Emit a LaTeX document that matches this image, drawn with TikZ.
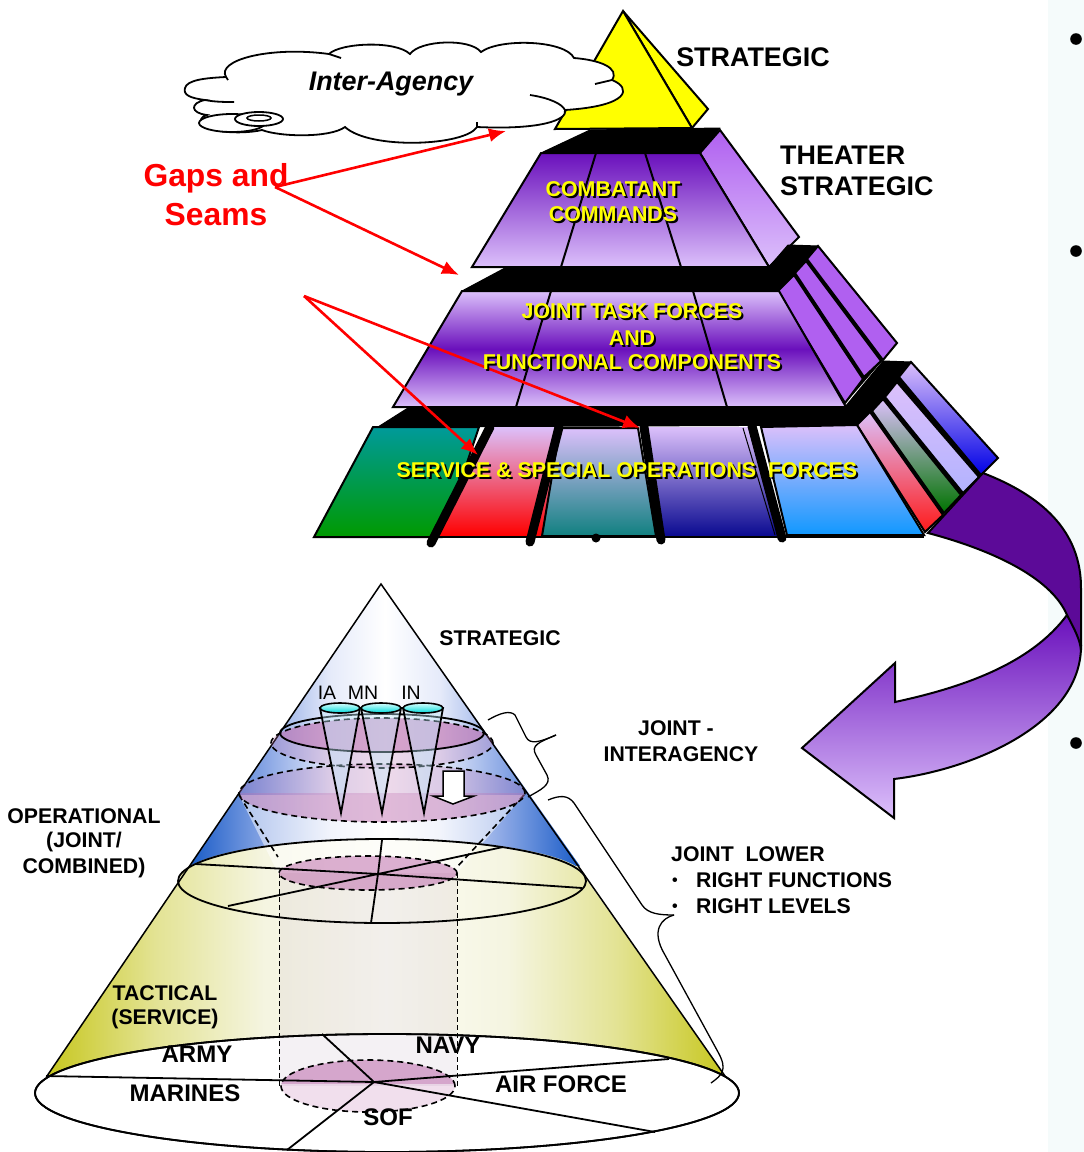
\documentclass[tikz,border=0pt]{standalone}
\usepackage{fontspec}
\setmainfont{Liberation Sans}
\usetikzlibrary{arrows.meta}
\definecolor{lav}{HTML}{DCC0FB}
\definecolor{deepv}{HTML}{6A10BC}
\definecolor{midv}{HTML}{B060F0}
\definecolor{darkv}{HTML}{5C0A98}
\definecolor{pinkf}{HTML}{C070B0}
\definecolor{panelc}{HTML}{F5FBFB}
\definecolor{yel}{RGB}{255,255,0}
\definecolor{tealtop}{HTML}{009A9A}
\definecolor{greenbot}{HTML}{009A00}
\definecolor{tealbot}{HTML}{108080}
\definecolor{navybot}{HTML}{0A0A90}
\definecolor{skybot}{HTML}{1098FF}
\pgfdeclarehorizontalshading{yshade}{100bp}{rgb(0bp)=(.78,.78,.12); rgb(25bp)=(.78,.78,.12); rgb(33bp)=(.89,.89,.58); rgb(41bp)=(.96,.96,.88); rgb(50bp)=(.99,.99,.96); rgb(59bp)=(.96,.96,.88); rgb(67bp)=(.89,.89,.58); rgb(75bp)=(.78,.78,.12); rgb(100bp)=(.78,.78,.12)}
\pgfdeclarehorizontalshading{bshade}{100bp}{rgb(0bp)=(.10,.36,.78); rgb(25bp)=(.10,.36,.78); rgb(35bp)=(.55,.66,.90); rgb(43bp)=(.90,.92,.98); rgb(50bp)=(1,1,1); rgb(57bp)=(.90,.92,.98); rgb(65bp)=(.55,.66,.90); rgb(75bp)=(.10,.36,.78); rgb(100bp)=(.10,.36,.78)}
\newcommand\fsz[1]{\fontsize{#1}{#1}\selectfont}
\newcommand\shtxt[1]{\leavevmode\rlap{\raisebox{-2pt}{\hspace{2pt}\textcolor{black}{#1}}}\textcolor{yel}{#1}}
\tikzset{
  edge/.style={draw=black,line width=2pt,line join=miter},
  thin edge/.style={draw=black,line width=1.5pt},
  lbl/.style={inner sep=0pt,font=\bfseries\fsz{21.25}},
  shl/.style={inner sep=0pt,font=\bfseries\fsz{21.4}},
  big/.style={inner sep=0pt,font=\bfseries\fsz{26.9}},
  unit/.style={inner sep=0pt,font=\bfseries\fsz{24}},
  plain/.style={inner sep=0pt,font=\fsz{19.5}},
  redarrow/.style={draw=red,line width=2.6pt,-{Latex[length=17pt,width=14pt]}},
  thick bar/.style={draw=black,line width=9pt,line cap=round},
  band/.style={fill=black,draw=black,line width=1pt,line join=round},
  dash edge/.style={draw=black,line width=1.6pt,dash pattern=on 6pt off 4pt},
  cyl edge/.style={draw=black,line width=1pt,dash pattern=on 5pt off 3pt},
}
\begin{document}
\begin{tikzpicture}[x=1pt,y=-1pt]
\useasboundingbox (0,0) rectangle (1084,1152);
% side panel
\fill[panelc] (1048,0) rectangle (1084,1152);
\foreach \y in {39,251,743}{\fill[black] (1076,\y) circle[radius=5.8pt];}
% top pyramid
\path[edge,fill=yel] (623,11) -- (708,109) -- (692,128) -- cycle;
\path[edge,fill=yel] (623,11) -- (555,129) -- (692,128) -- cycle;
% cloud
\path[draw=black,line width=1.8pt,fill=white]
 (185,88) .. controls (187,80) and (205,78) .. (226,77)
 .. controls (216,60) and (270,46) .. (329,54)
 .. controls (340,43) and (395,40) .. (410,54)
 .. controls (420,40) and (470,38) .. (481,52)
 .. controls (500,38) and (565,40) .. (574,58)
 .. controls (600,60) and (620,68) .. (612,80)
 .. controls (632,88) and (630,106) .. (565,110)
 .. controls (568,120) and (540,130) .. (477,127)
 .. controls (465,146) and (370,150) .. (345,127)
 .. controls (330,138) and (280,137) .. (262,130)
 .. controls (240,135) and (203,132) .. (201,122)
 .. controls (200,117) and (205,116) .. (207,115)
 .. controls (190,113) and (190,103) .. (205,100)
 .. controls (190,98) and (183,95) .. (185,88) -- cycle;
\draw[line width=1.8pt] (205,100) .. controls (215,102) and (225,102) .. (234,102);
\draw[line width=1.8pt] (226,77) -- (228,80);
\draw[line width=1.8pt] (329,54) -- (341,58);
\draw[line width=1.8pt] (612,80) -- (595,84);
\draw[line width=1.8pt] (530,95) .. controls (550,98) and (562,104) .. (565,110);
\draw[line width=1.8pt] (477,127) -- (477,122);
\draw[line width=1.8pt,fill=white] (232,123) ellipse[x radius=33pt,y radius=9pt];
\draw[line width=1.8pt,fill=white] (259,119) ellipse[x radius=24pt,y radius=7pt];
\draw[line width=1.5pt,fill=white] (259,118) ellipse[x radius=12pt,y radius=3pt];
% tier 2
\path[band] (541,153) -- (590,130) -- (720,128) -- (700,153) -- cycle;
\path[edge,top color=midv,bottom color=lav] (700,153) -- (720,130) -- (799,237) -- (769,267) -- cycle;
\path[edge,top color=deepv,bottom color=lav] (541,153) -- (700,153) -- (769,267) -- (472,267) -- cycle;
\draw[edge] (596,153) -- (561,267) (645,153) -- (681,267);
% tier 3
\path[band] (462,291) -- (505,268) -- (769,267) -- (788,245) -- (818,246) -- (778,291) -- cycle;
\path[band] (778,291) -- (845,403) -- (897,343) -- (818,246) -- cycle;
\path[edge,fill=midv] (778,291) -- (845,403) -- (863,379) -- (794,275) -- cycle;
\path[edge,fill=midv] (795,273) -- (864,377) -- (881,361) -- (806,261) -- cycle;
\path[edge,fill=midv] (807,259) -- (818,246) -- (897,343) -- (883,360) -- cycle;
\path[edge,top color=lav,bottom color=lav,middle color=deepv] (462,291) -- (779,291) -- (846,407) -- (393,407) -- cycle;
\draw[edge] (551,291) -- (516,407) (693,291) -- (727,407);
% tier 4
\path[band] (378,427) -- (408,408) -- (845,407) -- (883,361) -- (911,362) -- (857,425) -- cycle;
\path[band] (857,425) -- (925,532) -- (981,475) -- (911,362) -- cycle;
\path[edge,top color=lav,bottom color=red!90!white] (857,425) -- (925,532) -- (943,515) -- (870,412) -- cycle;
\path[edge,top color=lav,bottom color=green!45!black] (872,411) -- (944,513) -- (961,495) -- (883,399) -- cycle;
\path[edge,top color=lav,bottom color=blue!30!white] (885,397) -- (963,493) -- (979,477) -- (897,382) -- cycle;
\path[edge,top color=lav,bottom color=blue!90!black] (899,377) -- (911,362) -- (998,458) -- (981,475) -- cycle;
\path[edge,top color=tealtop,bottom color=greenbot] (373,427) -- (479,427) -- (442,537) -- (314,537) -- cycle;
\path[top color=lav,bottom color=red] (486,427) -- (562,427) -- (546,536) -- (436,536) -- cycle;
\path[edge,top color=lav,bottom color=tealbot] (560,428) -- (638,428) -- (656,536) -- (542,536) -- cycle;
\path[top color=lav,bottom color=navybot] (648,427) -- (756,427) -- (784,536) -- (660,536) -- cycle;
\draw[line width=1pt] (743,428) -- (775,535);
\path[edge,top color=lav,bottom color=skybot] (761,427) -- (857,425) -- (924,535) -- (787,535) -- cycle;
\draw[edge] (314,537) -- (924,537);
\draw[thick bar] (490,427) -- (431,543);
\draw[thick bar] (559,427) -- (530,542);
\draw[thick bar] (644,427) -- (661,540);
\draw[thick bar] (752,426) -- (782,538);
\fill[black] (596,538) circle[radius=4.5pt];
% curved arrow
\path[edge,top color=deepv,bottom color=lav] (1067,615) .. controls (1030,665) and (960,688) .. (895,702) -- (895,663) -- (802,748) -- (894,818) -- (894,779) .. controls (970,770) and (1082,725) .. (1081,645) .. controls (1080,635) and (1075,628) .. (1067,615) -- cycle;
\path[edge,fill=darkv] (928,533) .. controls (985,548) and (1050,575) .. (1067,615) .. controls (1075,630) and (1080,640) .. (1081,650) -- (1081,590) .. controls (1082,530) and (1040,495) .. (983,473) -- cycle;
% cone
\path[shading=bshade] (381,584) -- (190,866) -- (580,866) -- cycle;
\path[shading=yshade] (47,1076) -- (180,879) .. controls (180,856) and (270,839) .. (382,839) .. controls (494,839) and (586,856) .. (586,879) -- (725,1076) -- cycle;
\draw[thin edge] (47,1076) -- (381,584) -- (725,1076);
\path[draw=black,line width=1.8pt,fill=white] (387,1093) ellipse[x radius=352pt,y radius=59pt];
% funnel and cylinder
\path[fill=white,fill opacity=.5] (239,795) -- (278,873) -- (457,873) -- (524,795) -- cycle;
\path[fill=pinkf!40!gray!50!white,fill opacity=.2] (279,873) rectangle (457,1086);
\draw[cyl edge] (279,873) -- (279,1086) (457,873) -- (457,1086);
\draw[dash edge] (239,795) -- (278,857) (524,795) -- (457,867);
% upper ellipses
\path[fill=pinkf,fill opacity=.25] (382,743) ellipse[x radius=111pt,y radius=25pt];
\begin{scope}
\clip (382,743) ellipse[x radius=111pt,y radius=25pt];
\path[fill=pinkf,fill opacity=.5] (382,733) ellipse[x radius=102pt,y radius=19pt];
\end{scope}
\path[fill=pinkf,fill opacity=.25] (382,793) ellipse[x radius=143pt,y radius=29pt];
\begin{scope}
\clip (230,793) rectangle (530,830);
\path[fill=pinkf,fill opacity=.3] (382,793) ellipse[x radius=143pt,y radius=29pt];
\end{scope}
\draw[dash edge] (382,743) ellipse[x radius=111pt,y radius=25pt];
\draw[dash edge] (382,793) ellipse[x radius=143pt,y radius=29pt];
\draw[line width=1.8pt] (382,733) ellipse[x radius=102pt,y radius=19pt];
% mid ellipse
\path[fill=pinkf,fill opacity=.55] (368,873) ellipse[x radius=89pt,y radius=17pt];
\draw[dash edge] (368,873) ellipse[x radius=89pt,y radius=17pt];
\draw[line width=1.8pt] (382,881) ellipse[x radius=204pt,y radius=42pt];
\draw[line width=1.8pt] (378,874) -- (195,864) (378,874) -- (582,888) (378,874) -- (503,847) (378,874) -- (228,906) (378,874) -- (382,840) (378,874) -- (371,923);
% bottom ellipse contents
\begin{scope}
\clip (270,1050) rectangle (470,1083);
\path[fill=pinkf,fill opacity=.45] (368,1086) ellipse[x radius=87pt,y radius=26pt];
\end{scope}
\path[fill=pinkf,fill opacity=.22] (368,1086) ellipse[x radius=87pt,y radius=26pt];
\draw[dash edge] (368,1086) ellipse[x radius=87pt,y radius=26pt];
\draw[line width=1.8pt] (387,1093) ellipse[x radius=352pt,y radius=59pt];
\draw[line width=1.8pt] (374,1082) -- (46,1076) (374,1082) -- (322,1034) (374,1082) -- (669,1059) (374,1082) -- (655,1132) (374,1082) -- (287,1150);
% small cones
\foreach \x in {340,381,423}{
  \path[fill=cyan!25!white,fill opacity=.4,draw=black,line width=1.8pt] (\x-20,708) -- (\x+1,813) -- (\x+20,708) -- cycle;
  \path[top color=cyan!15!white,bottom color=cyan!70!teal,draw=black,line width=1.6pt] (\x,708) ellipse[x radius=20pt,y radius=5pt];
}
% white arrow
\path[draw=black,line width=1.5pt,fill=white] (443,771) -- (464,771) -- (464,796) -- (474,796) -- (453,804) -- (433,796) -- (443,796) -- cycle;
% braces
\draw[line width=1.3pt] (488,720) .. controls (500,713) and (510,710) .. (515,715) -- (526,737) .. controls (530,745) and (540,742) .. (556,735);
\draw[line width=1.3pt] (556,735) .. controls (540,742) and (530,745) .. (536,755) -- (547,775) .. controls (552,785) and (540,790) .. (528,797);
\draw[line width=1.3pt] (548,800) .. controls (560,795) and (568,795) .. (574,803) -- (642,905) .. controls (648,914) and (660,915) .. (674,915);
\draw[line width=1.3pt] (674,915) .. controls (662,918) and (650,930) .. (665,955) -- (718,1052) .. controls (728,1070) and (722,1075) .. (711,1083);
% red arrows
\coordinate (g1) at (275,187);
\coordinate (g2) at (304,296);
\coordinate (t1) at (506,131);
\coordinate (t2) at (459,275);
\coordinate (t3) at (478,455);
\coordinate (t4) at (640,428);
\draw[redarrow] (g1) -- (t1);
\draw[redarrow] (g1) -- (t2);
\draw[redarrow] (g2) -- (t3);
\draw[redarrow] (g2) -- (t4);
% texts
\node[big] (strat) at (753,57) {STRATEGIC};
\node[big,anchor=west] (th1) at (780,155) {THEATER};
\node[big,anchor=west] (th2) at (780,186) {STRATEGIC};
\node[inner sep=0pt,font=\bfseries\itshape\fsz{26.9}] (ia) at (391,84) {Inter-Agency};
\node[inner sep=0pt,text=red,font=\bfseries\fsz{31.8}] (gaps) at (216,178) {Gaps and};
\node[inner sep=0pt,text=red,font=\bfseries\fsz{31.8}] (seams) at (216,215) {Seams};
\node[shl] (c1) at (613,190) {\shtxt{COMBATANT}};
\node[shl] (c2) at (613,215) {\shtxt{COMMANDS}};
\node[shl] (j1) at (632,312) {\shtxt{JOINT TASK FORCES}};
\node[shl] (j2) at (632,339) {\shtxt{AND}};
\node[shl] (j3) at (632,363) {\shtxt{FUNCTIONAL COMPONENTS}};
\node[shl] (s1) at (627,471) {\shtxt{SERVICE \& SPECIAL OPERATIONS\ \ FORCES}};
\node[lbl] (st) at (500,638) {STRATEGIC};
\node[plain] (ial) at (327,693) {IA};
\node[plain] (mn) at (363,693) {MN};
\node[plain] (in) at (411,693) {IN};
\node[lbl] (ji1) at (676,728) {JOINT -};
\node[lbl] (ji2) at (681,754) {INTERAGENCY};
\node[lbl] (o1) at (84,816) {OPERATIONAL};
\node[lbl] (o2) at (84,842) {(JOINT/};
\node[lbl] (o3) at (84,868) {COMBINED)};
\node[lbl,anchor=west] (jl) at (671,854) {JOINT\ \ LOWER};
\node[lbl,anchor=west] (d1) at (672,882) {\fsz{16}•};
\node[lbl,anchor=west] (d2) at (672,908) {\fsz{16}•};
\node[lbl,anchor=west] (r1) at (696,880) {RIGHT FUNCTIONS};
\node[lbl,anchor=west] (r2) at (696,906) {RIGHT LEVELS};
\node[lbl] (t1l) at (165,993) {TACTICAL};
\node[lbl] (t2l) at (165,1019) {(SERVICE)};
\node[unit] (army) at (197,1054) {ARMY};
\node[unit] (navy) at (448,1045) {NAVY};
\node[unit] (mar) at (185,1093) {MARINES};
\node[unit] (af) at (561,1084) {AIR FORCE};
\node[unit] (sof) at (388,1117) {SOF};
\end{tikzpicture}
\end{document}
